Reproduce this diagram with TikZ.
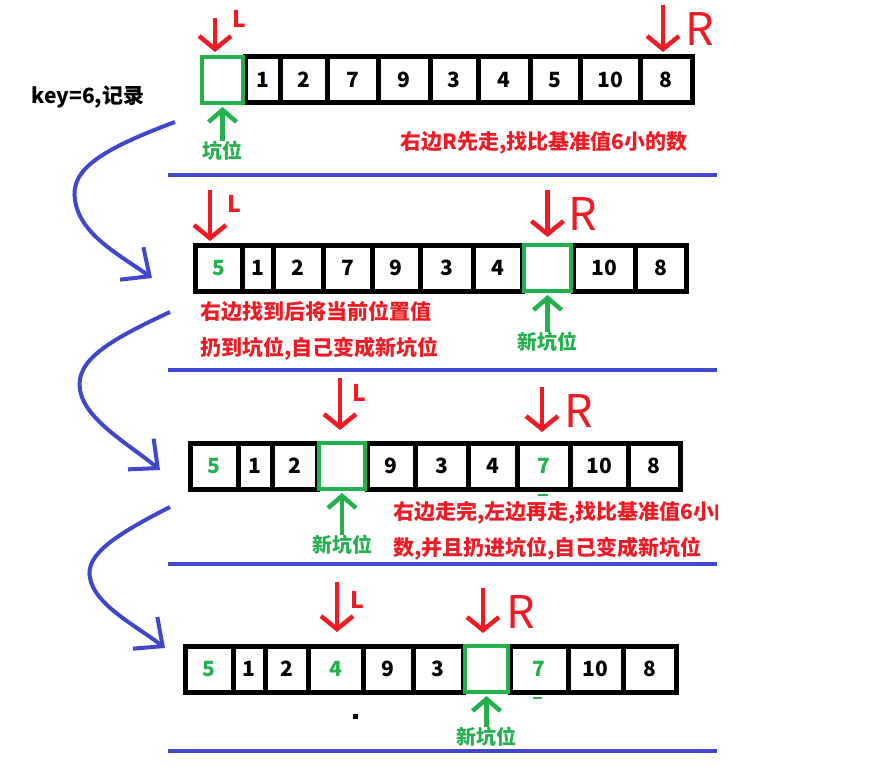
\documentclass[tikz,border=0pt]{standalone}
\usepackage{fontspec}
\setmainfont{Noto Sans CJK SC}
\usetikzlibrary{arrows.meta,positioning}
\definecolor{pred}{HTML}{ED1C24}
\definecolor{pgreen}{HTML}{22B14C}
\definecolor{pblue}{HTML}{3F48CC}

\begin{document}
\begin{tikzpicture}
[x=1pt,y=-1pt,
cell/.style={draw=black,line width=5pt,minimum height=46pt,inner sep=0pt,font=\bfseries\fontsize{21}{21}\selectfont},
hole/.style={draw=pgreen,line width=4pt,minimum height=46pt,inner sep=0pt},
ptr/.style={draw=pred,line width=4.5pt,-{Straight Barb[length=13pt,width=32pt]},shorten >=3pt},
gptr/.style={draw=pgreen,line width=4.5pt,-{Straight Barb[length=12pt,width=28pt]},shorten >=2pt},
flow/.style={draw=pblue,line width=4pt,-{Straight Barb[length=22pt,width=40pt]}},
sep/.style={draw=pblue,line width=4.5pt},
markL/.style={text=pred,font=\bfseries\fontsize{23}{23}\selectfont,inner sep=0pt},
markR/.style={text=pred,font=\fontsize{45}{45}\selectfont,inner sep=0pt},
glabel/.style={text=pgreen,font=\bfseries\fontsize{20}{20}\selectfont,inner sep=0pt},
note/.style={text=pred,font=\bfseries\fontsize{21}{36}\selectfont,align=left,anchor=west,inner sep=0pt}]
\useasboundingbox (0,0) rectangle (885,770);
%%
\node[font=\bfseries\fontsize{21}{21}\selectfont,inner sep=0pt] (key) at (88,97) {key=6,记录};
\foreach \l/\r/\t/\c [count=\i] in {245/280/1/black,280/327/2/black,327/378/7/black,378/430/9/black,430/478/3/black,478/530/4/black,530/580/5/black,580/640/10/black,640/692/8/black}
  \node[cell,text=\c,minimum width=\r-\l] (r1c\i) at ({(\l+\r)/2},80) {\t};
\node[hole,minimum width=41pt] (r1h) at (222.5,80) {};
\coordinate (r1Lt) at ([xshift=-7.5pt,yshift=37pt]r1h.north);
\draw[ptr] (r1Lt) -- (r1Lt |- r1h.north);
\node[markL] (r1L) at ([xshift=16.5pt,yshift=36pt]r1h.north) {L};
\coordinate (r1Rt) at ([xshift=-3pt,yshift=49.5pt]r1c9.north);
\draw[ptr,shorten >=2.5pt] (r1Rt) -- (r1Rt |- r1c9.north);
\node[markR] (r1R) at ([xshift=34pt,yshift=25.5pt]r1c9.north) {R};
\node[glabel,below=36pt of r1h] (r1k) {坑位};
\draw[gptr] (r1k) -- (r1h);
\node[note] (n1) at (400,143) {右边R先走,找比基准值6小的数};
\draw[sep] (168,175) -- (717,175);
\coordinate (f1a) at (175,122);
\coordinate (f1b) at (152,278);
\draw[flow] (f1a) .. controls (100,150) and (70,170) .. (75,200) .. controls (80,235) and (120,255) .. (f1b);
%%
\foreach \l/\r/\t/\c [count=\i] in {195/242/5/pgreen,242/273/1/black,273/323/2/black,323/372/7/black,372/420/9/black,420/473/3/black,473/522/4/black,573/635/10/black,635/686/8/black}
  \node[cell,text=\c,minimum width=\r-\l] (r2c\i) at ({(\l+\r)/2},268) {\t};
\node[hole,minimum width=47pt] (r2h) at (547.5,268) {};
\coordinate (r2Lt) at ([xshift=-8.5pt,yshift=52.5pt]r2c1.north);
\draw[ptr,shorten >=1.5pt] (r2Lt) -- (r2Lt |- r2c1.north);
\node[markL] (r2L) at ([xshift=15.5pt,yshift=38.5pt]r2c1.north) {L};
\coordinate (r2Rt) at ([yshift=53pt]r2h.north);
\draw[ptr,shorten >=6pt] (r2Rt) -- (r2h.north);
\node[markR] (r2R) at ([xshift=35.5pt,yshift=29pt]r2h.north) {R};
\node[glabel,below=39pt of r2h] (r2k) {新坑位};
\draw[gptr] (r2k) -- (r2h);
\node[note] (n2) at (200,331) {右边找到后将当前位置值\\扔到坑位,自己变成新坑位};
\draw[sep] (168,370) -- (717,370);
\coordinate (f2a) at (170,312);
\coordinate (f2b) at (160,470);
\draw[flow] (f2a) .. controls (110,340) and (75,360) .. (80,390) .. controls (85,420) and (130,445) .. (f2b);
%%
\foreach \l/\r/\t/\c [count=\i] in {190/238/5/pgreen,238/272/1/black,272/317/2/black,367/415/9/black,415/468/3/black,468/517/4/black,517/570/7/pgreen,570/628/10/black,628/680/8/black}
  \node[cell,text=\c,minimum width=\r-\l] (r3c\i) at ({(\l+\r)/2},466) {\t};
\node[hole,minimum width=46pt] (r3h) at (342,466) {};
\coordinate (r3Lt) at ([xshift=-2pt,yshift=63pt]r3h.north);
\draw[ptr,shorten >=11pt] (r3Lt) -- (r3Lt |- r3h.north);
\node[markL] (r3L) at ([xshift=17pt,yshift=48pt]r3h.north) {L};
\coordinate (r3Rt) at ([xshift=-1.5pt,yshift=53.5pt]r3c7.north);
\draw[ptr,shorten >=8.5pt] (r3Rt) -- (r3Rt |- r3c7.north);
\node[markR] (r3R) at ([xshift=35.5pt,yshift=29.5pt]r3c7.north) {R};
\node[glabel,below=44pt of r3h] (r3k) {新坑位};
\draw[gptr] (r3k) -- (r3h);
\fill[pgreen] (538,494) rectangle (548,496);
\begin{scope}
\clip (0,0) rectangle (717,770);
\node[note] (n3) at (393,530.5) {右边走完,左边再走,找比基准值6小的\\数,并且扔进坑位,自己变成新坑位};
\end{scope}
\draw[sep] (168,564) -- (717,564);
\coordinate (f3a) at (170,507);
\coordinate (f3b) at (165,648);
\draw[flow] (f3a) .. controls (115,535) and (85,555) .. (90,578) .. controls (95,605) and (135,625) .. (f3b);
%%
\foreach \l/\r/\t/\c [count=\i] in {185/233/5/pgreen,233/265/1/black,265/308/2/black,308/363/4/pgreen,363/413/9/black,413/463/3/black,510/568/7/pgreen,568/623/10/black,623/676/8/black}
  \node[cell,text=\c,minimum width=\r-\l] (r4c\i) at ({(\l+\r)/2},669) {\t};
\node[hole,minimum width=43pt] (r4h) at (486.5,669) {};
\coordinate (r4Lt) at ([xshift=1.5pt,yshift=61.5pt]r4c4.north);
\draw[ptr,shorten >=11.5pt] (r4Lt) -- (r4Lt |- r4c4.north);
\node[markL] (r4L) at ([xshift=21.5pt,yshift=43.5pt]r4c4.north) {L};
\coordinate (r4Rt) at ([xshift=-3.5pt,yshift=56pt]r4h.north);
\draw[ptr,shorten >=11pt] (r4Rt) -- (r4Rt |- r4h.north);
\node[markR] (r4R) at ([xshift=34.5pt,yshift=32pt]r4h.north) {R};
\node[glabel,below=33pt of r4h] (r4k) {新坑位};
\draw[gptr] (r4k) -- (r4h);
\fill[pgreen] (533,697) rectangle (542,699);
\fill (353,714) rectangle (358,719);
\draw[sep] (168,751) -- (717,751);
\end{tikzpicture}
\end{document}
